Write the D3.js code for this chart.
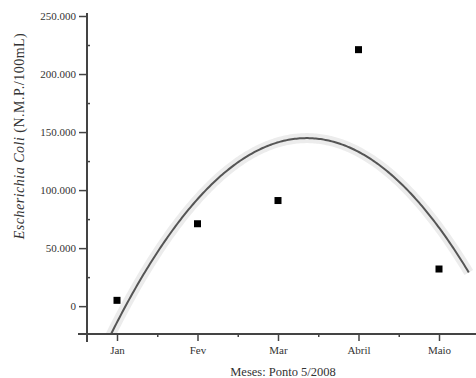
<!DOCTYPE html>
<html>
<head>
<meta charset="utf-8">
<script src="https://cdn.jsdelivr.net/npm/d3@7/dist/d3.min.js"></script>
<style>
  body { margin: 0; background: #fff; }
  svg { display: block; font-family: "Liberation Serif", "DejaVu Serif", serif; }
</style>
</head>
<body>
<div id="chart"></div>
<script>
// months and E. coli counts (NMP/100mL), ponto 5 / 2008
var months = ["Jan", "Fev", "Mar", "Abril", "Maio"];
var monthIdx = [1, 2, 3, 4, 5];
var coli = [5000, 71000, 91000, 221000, 32000];
var yTicks = [0, 50000, 100000, 150000, 200000, 250000];
var yMinor = [25000, 75000, 125000, 175000, 225000];
var xMinor = [1.5, 2.5, 3.5, 4.5, 5.5];

var W = 476, H = 378;
var serif = '"Liberation Serif", "DejaVu Serif", serif';
var svg = d3.select("#chart").append("svg").attr("width", W).attr("height", H);

var x = d3.scaleLinear().domain([1, 5]).range([117, 439]);
var y = d3.scaleLinear().domain([-24000, 250000]).range([334, 16]);

var axisColor = "#444";
var fmt = d3.formatLocale({ decimal: ",", thousands: ".", grouping: [3], currency: ["", ""] }).format(",");

// quadratic least-squares fit of the points (the trend curve)
function quadFit(xs, ys) {
    var n = xs.length, mx = d3.mean(xs);
    var t = xs.map(function(v){ return v - mx; });
    var St2 = d3.sum(t, function(v){ return v*v; });
    var St4 = d3.sum(t, function(v){ return v*v*v*v; });
    var Sy = d3.sum(ys);
    var Sty = d3.sum(t, function(v,i){ return v*ys[i]; });
    var St2y = d3.sum(t, function(v,i){ return v*v*ys[i]; });
    var B = Sty / St2;
    var C = (n*St2y - St2*Sy) / (n*St4 - St2*St2);
    var A = (Sy - C*St2) / n;
    return function(v){ var d = v - mx; return A + B*d + C*d*d; };
}
var fit = quadFit(monthIdx, coli);
var xEnd = x.invert(470);
var curvePts = d3.range(0.85, xEnd + 0.001, 0.02).map(function(v){ return [v, fit(v)]; });

var y0 = y(y.domain()[0]);

// clip to plot region above x axis
svg.append("clipPath").attr("id", "plotclip")
    .append("rect").attr("x", 87).attr("y", 0)
    .attr("width", W).attr("height", y0);

var line = d3.line().x(function(d){ return x(d[0]); }).y(function(d){ return y(d[1]); });

var g = svg.append("g").attr("clip-path", "url(#plotclip)");
// faint halo around the curve, like in the scanned figure
g.append("path").datum(curvePts).attr("d", line)
    .attr("fill", "none").attr("stroke", "#ececec").attr("stroke-width", 10);
g.append("path").datum(curvePts).attr("d", line)
    .attr("fill", "none").attr("stroke", "#555").attr("stroke-width", 2);

// data points
svg.selectAll("rect.pt").data(coli).enter().append("rect")
    .attr("class", "pt")
    .attr("x", function(d, i){ return x(monthIdx[i]) - 3.5; })
    .attr("y", function(d){ return y(d) - 3.5; })
    .attr("width", 7).attr("height", 7)
    .attr("fill", "#000");

// y axis
var yAx = svg.append("g").attr("transform", "translate(87,0)")
    .call(d3.axisLeft(y).tickValues(yTicks).tickSize(8).tickPadding(3).tickFormat(function(d){ return fmt(d); }));
yAx.attr("font-family", serif);
yAx.select(".domain").remove();
yAx.selectAll("line").attr("stroke", axisColor).attr("stroke-width", 1.5);
yAx.selectAll("text").attr("font-size", 11).attr("fill", "#333");
var yMin = svg.append("g").attr("transform", "translate(87,0)")
    .call(d3.axisRight(y).tickValues(yMinor).tickSize(3).tickFormat(""));
yMin.select(".domain").remove();
yMin.selectAll("line").attr("stroke", axisColor).attr("stroke-width", 1.5);
svg.append("line").attr("x1", 87).attr("x2", 87).attr("y1", y(250000) - 3).attr("y2", y0 + 8)
    .attr("stroke", axisColor).attr("stroke-width", 2);

// x axis
var xAx = svg.append("g").attr("transform", "translate(0," + y0 + ")")
    .call(d3.axisBottom(x).tickValues(monthIdx).tickSize(7).tickPadding(5).tickFormat(function(d, i){ return months[i]; }));
xAx.attr("font-family", serif);
xAx.select(".domain").remove();
xAx.selectAll("line").attr("stroke", axisColor).attr("stroke-width", 1.5);
xAx.selectAll("text").attr("font-size", 11).attr("fill", "#333");
var xMin = svg.append("g").attr("transform", "translate(0," + y0 + ")")
    .call(d3.axisBottom(x).tickValues(xMinor).tickSize(3).tickFormat(""));
xMin.select(".domain").remove();
xMin.selectAll("line").attr("stroke", axisColor).attr("stroke-width", 1.5);
svg.append("line").attr("x1", 78).attr("x2", W).attr("y1", y0).attr("y2", y0)
    .attr("stroke", axisColor).attr("stroke-width", 2);

// axis titles
svg.append("text").attr("x", 283).attr("y", 376).attr("text-anchor", "middle")
    .attr("font-size", 12.5).attr("fill", "#333").text("Meses: Ponto 5/2008");

var yl = svg.append("text").attr("transform", "translate(24,136) rotate(-90)")
    .attr("text-anchor", "middle").attr("font-size", 14).attr("letter-spacing", 0.5).attr("fill", "#333");
yl.append("tspan").attr("font-style", "italic").text("Escherichia  Coli");
yl.append("tspan").text(" (N.M.P./100mL)");
</script>
</body>
</html>
